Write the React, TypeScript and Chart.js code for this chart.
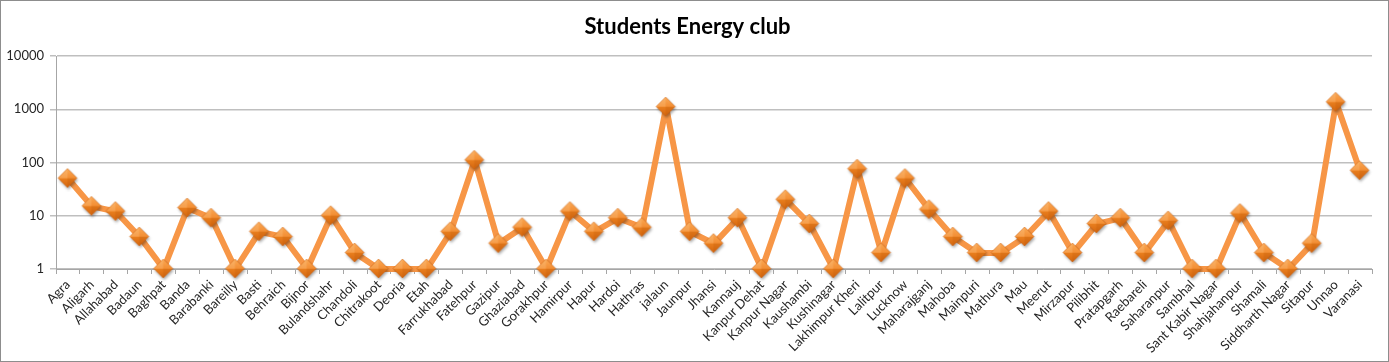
import React, { useEffect, useRef } from "react";
import { Chart, registerables } from "chart.js";

Chart.register(...registerables);

const TITLE = "Students Energy club";

const districts: string[] = [
  "Agra", "Aligarh", "Allahabad", "Badaun", "Baghpat", "Banda", "Barabanki", "Bareilly", "Basti", "Behraich",
  "Bijnor", "Bulandshahr", "Chandoli", "Chitrakoot", "Deoria", "Etah", "Farrukhabad", "Fatehpur", "Gazipur", "Ghaziabad",
  "Gorakhpur", "Hamirpur", "Hapur", "Hardoi", "Hathras", "jalaun", "Jaunpur", "Jhansi", "Kannauj", "Kanpur Dehat",
  "Kanpur Nagar", "Kaushambi", "Kushinagar", "Lakhimpur Kheri", "Lalitpur", "Lucknow", "Maharajganj", "Mahoba", "Mainpuri", "Mathura",
  "Mau", "Meerut", "Mirzapur", "Pilibhit", "Pratapgarh", "Raebareli", "Saharanpur", "Sambhal", "Sant Kabir Nagar", "Shahjahanpur",
  "Shamali", "Siddharth Nagar", "Sitapur", "Unnao", "Varanasi",
];

const clubs: number[] = [
  50, 15, 12, 4, 1, 14, 9, 1, 5, 4,
  1, 10, 2, 1, 1, 1, 5, 110, 3, 6,
  1, 12, 5, 9, 6, 1100, 5, 3, 9, 1,
  20, 7, 1, 75, 2, 50, 13, 4, 2, 2,
  4, 12, 2, 7, 9, 2, 8, 1, 1, 11,
  2, 1, 3, 1350, 70,
];

const yTicks: number[] = [1, 10, 100, 1000, 10000];

function makeDiamond(): HTMLCanvasElement {
  const c = document.createElement("canvas");
  c.width = 26;
  c.height = 26;
  const g = c.getContext("2d")!;
  const cx = 12.5, cy = 12.5, r = 9.5;
  const path = () => {
    g.beginPath();
    g.moveTo(cx, cy - r);
    g.lineTo(cx + r, cy);
    g.lineTo(cx, cy + r);
    g.lineTo(cx - r, cy);
    g.closePath();
  };
  g.save();
  g.shadowColor = "rgba(0,0,0,0.35)";
  g.shadowBlur = 3;
  g.shadowOffsetX = 1;
  g.shadowOffsetY = 2;
  path();
  const grad = g.createLinearGradient(cx, cy - r, cx, cy + r);
  grad.addColorStop(0, "#FAA855");
  grad.addColorStop(0.5, "#F38E33");
  grad.addColorStop(0.51, "#E97F1F");
  grad.addColorStop(1, "#D4660E");
  g.fillStyle = grad;
  g.fill();
  g.restore();
  g.beginPath();
  g.moveTo(cx, cy - r);
  g.lineTo(cx, cy);
  g.lineTo(cx - r, cy);
  g.closePath();
  g.fillStyle = "rgba(255,220,170,0.22)";
  g.fill();
  g.beginPath();
  g.moveTo(cx + r, cy);
  g.lineTo(cx, cy);
  g.lineTo(cx, cy + r);
  g.closePath();
  g.fillStyle = "rgba(160,70,0,0.15)";
  g.fill();
  path();
  g.strokeStyle = "rgba(205,95,15,0.7)";
  g.lineWidth = 0.7;
  g.stroke();
  return c;
}

export default function App() {
  const ref = useRef<HTMLCanvasElement | null>(null);

  useEffect(() => {
    if (!ref.current) return;
    const diamond = makeDiamond();
    const chart = new Chart(ref.current, {
      type: "line",
      data: {
        labels: districts,
        datasets: [
          {
            label: "Students Energy club",
            data: clubs,
            borderColor: "#F79646",
            borderWidth: 6,
            borderJoinStyle: "round",
            tension: 0,
            clip: false,
            pointStyle: diamond as any,
            pointRadius: 10,
            pointHoverRadius: 10,
          } as any,
        ],
      },
      options: {
        responsive: false,
        animation: false,
        layout: { padding: { top: 0, right: 14, bottom: 0, left: 0 } },
        plugins: {
          legend: { display: false },
          tooltip: { enabled: false },
          title: {
            display: true,
            text: TITLE,
            color: "#000000",
            font: { family: "Lato", size: 22, weight: "bold", lineHeight: "24px" },
            padding: { top: 14, bottom: 17 },
          },
        },
        scales: {
          x: {
            offset: true,
            grid: {
              offset: true,
              drawOnChartArea: false,
              drawTicks: true,
              tickLength: 5,
              color: "#A6A6A6",
            },
            border: { display: true, color: "#A6A6A6", width: 1 },
            ticks: {
              autoSkip: false,
              minRotation: 45,
              maxRotation: 45,
              padding: 3,
              color: "#262626",
              font: { family: "Lato", size: 13 },
            },
            afterFit: (s: any) => {
              s.height = 92;
            },
          },
          y: {
            type: "logarithmic",
            min: 1,
            max: 10000,
            grid: {
              color: "#BFBFBF",
              lineWidth: 1.5,
              tickLength: 6,
            },
            border: { display: true, color: "#A6A6A6", width: 1 },
            ticks: {
              padding: 6,
              color: "#262626",
              font: { family: "Lato", size: 13 },
              callback: (v: any) => String(v),
            },
            afterBuildTicks: (s: any) => {
              s.ticks = yTicks.map((v) => ({ value: v }));
            },
            afterFit: (s: any) => {
              s.width = 55;
            },
          },
        },
      },
    });
    return () => chart.destroy();
  }, []);

  return (
    <div
      style={{
        position: "absolute",
        top: 0,
        left: 0,
        width: 1389,
        height: 362,
        boxSizing: "border-box",
        border: "1px solid #8D8D8D",
        background: "#FFFFFF",
      }}
    >
      <canvas ref={ref} width={1387} height={360} style={{ display: "block" }} />
    </div>
  );
}
